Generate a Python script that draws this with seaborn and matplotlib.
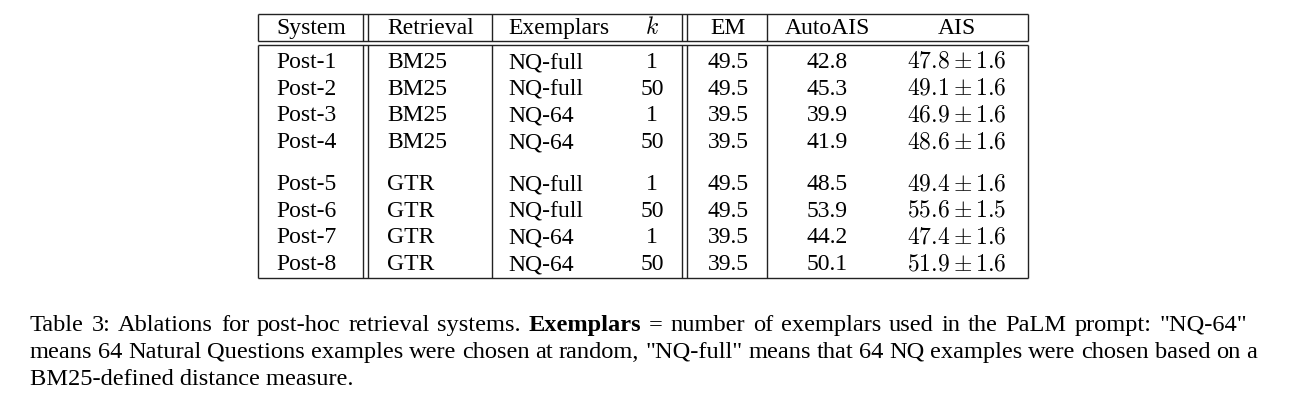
import matplotlib
matplotlib.use("Agg")
import matplotlib.pyplot as plt
import seaborn as sns

sns.set_theme(style="white")
plt.rcParams["font.family"] = ["Liberation Serif", "DejaVu Serif"]
plt.rcParams["mathtext.fontset"] = "cm"

# ---- data ----
headers = ["System", "Retrieval", "Exemplars", "$k$", "EM", "AutoAIS", "AIS"]
systems = ["Post-1", "Post-2", "Post-3", "Post-4", "Post-5", "Post-6", "Post-7", "Post-8"]
retrieval = ["BM25", "BM25", "BM25", "BM25", "GTR", "GTR", "GTR", "GTR"]
exemplars = ["NQ-full", "NQ-full", "NQ-64", "NQ-64", "NQ-full", "NQ-full", "NQ-64", "NQ-64"]
k_values = [1, 50, 1, 50, 1, 50, 1, 50]
em = [49.5, 49.5, 39.5, 39.5, 49.5, 49.5, 39.5, 39.5]
autoais = [42.8, 45.3, 39.9, 41.9, 48.5, 53.9, 44.2, 50.1]
ais_mean = [47.8, 49.1, 46.9, 48.6, 49.4, 55.6, 47.4, 51.9]
ais_err = [1.6, 1.6, 1.6, 1.6, 1.6, 1.5, 1.6, 1.6]

caption_line1 = [("Table", False), ("3:", False), ("Ablations", False), ("for", False),
                 ("post-hoc", False), ("retrieval", False), ("systems.", False),
                 ("Exemplars", True), ("=", False), ("number", False), ("of", False),
                 ("exemplars", False), ("used", False), ("in", False), ("the", False),
                 ("PaLM", False), ("prompt:", False), ('"NQ-64"', False)]
caption_line2 = 'means 64 Natural Questions examples were chosen at random, "NQ-full" means that 64 NQ examples were chosen based on a'
caption_line3 = "BM25-defined distance measure."

# ---- layout ----
W, H = 1294, 410
fig = plt.figure(figsize=(W / 100, H / 100), dpi=100)
ax = fig.add_axes([0, 0, 1, 1])
ax.set_xlim(0, W)
ax.set_ylim(H, 0)
ax.axis("off")

FS = 17
col_x = [276, 387, 508, 652, 728, 827, 957]
col_ha = ["left", "left", "left", "center", "center", "center", "center"]
header_y = 34
row0, step, gap = 68, 26.7, 15.3

x_left, x_right = 258, 1028
y_top, y_h1, y_h2, y_bot = 15, 42, 46, 278.5
lc, lw = "#222222", 1.0

# horizontal lines
for yy in (y_top, y_h1, y_h2, y_bot):
    ax.plot([x_left, x_right], [yy, yy], color=lc, lw=lw, solid_capstyle="butt")
# vertical lines (interrupted between the double rule)
for xx in (x_left, 363, 368, 492, 682, 687, 767, x_right):
    ax.plot([xx, xx], [y_top, y_h1], color=lc, lw=lw, solid_capstyle="butt")
    ax.plot([xx, xx], [y_h2, y_bot], color=lc, lw=lw, solid_capstyle="butt")

for x, ha, h in zip(col_x, col_ha, headers):
    ax.text(x, header_y, h, fontsize=FS, ha=ha, va="baseline", color="black")

for i in range(len(systems)):
    y = row0 + i * step + (gap if i >= 4 else 0)
    cells = [systems[i], retrieval[i], exemplars[i], str(k_values[i]),
             f"{em[i]:.1f}", f"{autoais[i]:.1f}",
             rf"${ais_mean[i]:.1f} \pm {ais_err[i]:.1f}$"]
    for x, ha, c in zip(col_x, col_ha, cells):
        ax.text(x, y, c, fontsize=FS, ha=ha, va="baseline", color="black")

# ---- caption ----
CFS = 17.6
renderer = fig.canvas.get_renderer()


def justify(words, y, x0, x1):
    objs = []
    for w, b in words:
        t = ax.text(x0, y, w, fontsize=CFS, ha="left", va="baseline",
                    fontweight="bold" if b else "normal", color="black")
        objs.append(t)
    widths = [t.get_window_extent(renderer).width for t in objs]
    space = (x1 - x0 - sum(widths)) / (len(objs) - 1)
    x = x0
    for t, wd in zip(objs, widths):
        t.set_x(x)
        x += wd + space


cx0 = 30
justify(caption_line1, 331, cx0, 1247)
justify([(w, False) for w in caption_line2.split(" ")], 358, cx0, 1257)
ax.text(cx0, 385, caption_line3, fontsize=CFS, ha="left", va="baseline", color="black")

fig.savefig("out.png", dpi=100)
